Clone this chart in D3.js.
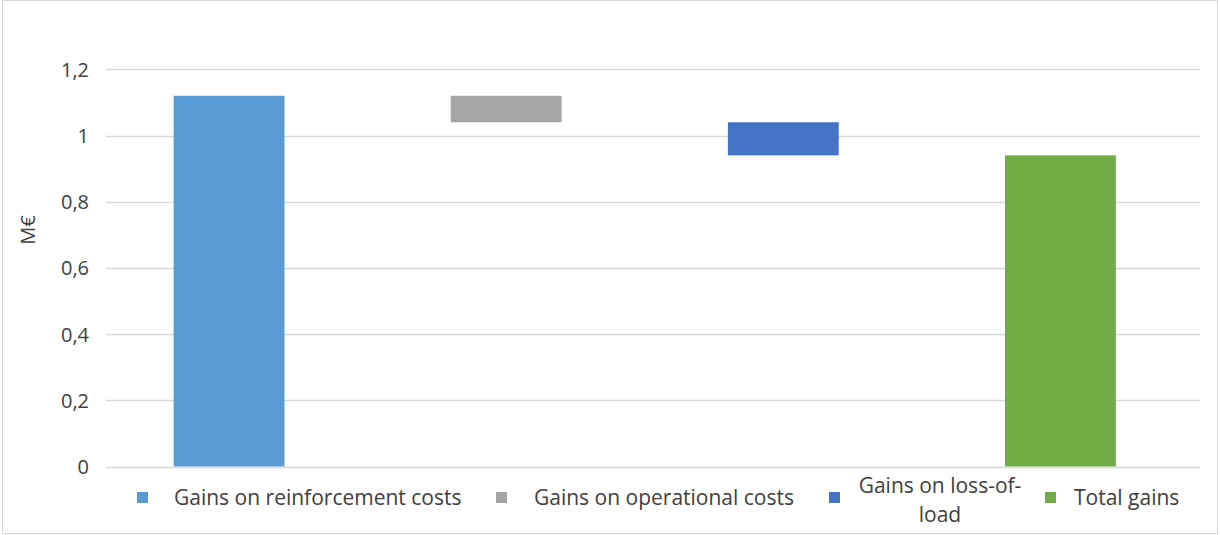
<!DOCTYPE html>
<html><head><meta charset="utf-8">
<script src="https://cdn.jsdelivr.net/npm/d3@7"></script>
<style>body{margin:0;background:#fff}svg{display:block}</style>
</head><body>
<svg id="c" width="1220" height="535"></svg>
<script>
const categories = ["Gains on reinforcement costs","Gains on operational costs","Gains on loss-of-load","Total gains"];
const deltas = [1.12, -0.08, -0.10, 0.94];
const isTotal = [false, false, false, true];
const colors = ["#5B9BD5","#A5A5A5","#4472C4","#70AD47"];
const yTicks = [0,0.2,0.4,0.6,0.8,1,1.2];
const tickLabels = ["0","0,2","0,4","0,6","0,8","1","1,2"];
const legendLines = [["Gains on reinforcement costs"],["Gains on operational costs"],["Gains on loss-of-","load"],["Total gains"]];

// waterfall segments
let run = 0;
const segs = deltas.map((d,i)=>{
  if (isTotal[i]) { run = d; return {lo:0, hi:d}; }
  const a = run, b = run + d; run = b;
  return {lo:Math.min(a,b), hi:Math.max(a,b)};
});

const svg = d3.select("#c");
const font = "'Open Sans', Carlito, Calibri, sans-serif";
svg.append("rect").attr("x",2.5).attr("y",0.5).attr("width",1215).attr("height",533)
  .attr("fill","#fff").attr("stroke","#d9d9d9");

const x = d3.scaleBand().domain(categories).range([90.5,1199]).paddingInner(0.6).paddingOuter(0.3);
const y = d3.scaleLinear().domain([0,1.2]).range([466.5,69.3]);

const grid = svg.append("g");
grid.selectAll("line").data(yTicks).join("line")
  .attr("x1",106).attr("x2",1200)
  .attr("y1",d=>Math.round(y(d))+0.5).attr("y2",d=>Math.round(y(d))+0.5)
  .attr("stroke","#d9d9d9").attr("stroke-width",1.3);

const yAxis = d3.axisLeft(y).tickValues(yTicks).tickFormat((d,i)=>tickLabels[i]).tickSize(0).tickPadding(0);
const ga = svg.append("g").attr("transform","translate(89,0)").call(yAxis);
ga.select(".domain").remove();
ga.selectAll("text").attr("font-family",font).attr("font-size",20).attr("fill","#404040").attr("dy","0.35em");

svg.append("g").selectAll("rect").data(segs).join("rect")
  .attr("x",(d,i)=>x(categories[i])).attr("width",x.bandwidth())
  .attr("y",d=>y(d.hi)).attr("height",d=>y(d.lo)-y(d.hi))
  .attr("fill",(d,i)=>colors[i]);

svg.append("text").attr("transform","translate(35,230) rotate(-90)")
  .attr("text-anchor","middle").attr("font-family",font).attr("font-size",20).attr("fill","#404040").text("M€");

const legX = [137, 496, 829, 1045];
const textX = [174, 534, 858, 1074];
const lg = svg.append("g");
categories.forEach((c,i)=>{
  lg.append("rect").attr("x",legX[i]).attr("y",492).attr("width",11).attr("height",11).attr("fill",colors[i]);
  const lines = legendLines[i];
  if (lines.length > 1) {
    const t = lg.append("text").attr("font-family",font).attr("font-size",21).attr("fill","#404040").attr("text-anchor","middle");
    lines.forEach((l,j)=>{
      t.append("tspan").attr("x", textX[i]+82).attr("y", 493 + j*29).text(l);
    });
  } else {
    lg.append("text").attr("font-family",font).attr("font-size",21).attr("fill","#404040")
      .attr("x",textX[i]).attr("y",505).text(lines[0]);
  }
});
</script>
</body></html>
